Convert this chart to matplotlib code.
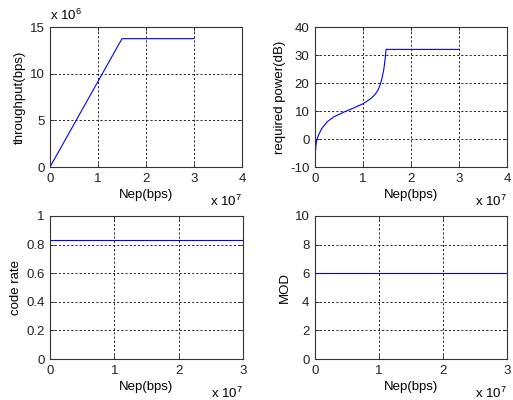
import matplotlib
matplotlib.use("Agg")
import matplotlib.pyplot as plt
from matplotlib.transforms import offset_copy

plt.rcParams["font.family"] = ["Liberation Sans", "DejaVu Sans"]
plt.rcParams["mathtext.fontset"] = "custom"
plt.rcParams["mathtext.rm"] = "Liberation Sans"

# throughput vs Nep
thr_x = [0, 1.5e7, 3e7]
thr_y = [0, 13.75e6, 13.75e6]

# required power vs Nep
pow_x = [0, 0.005e7, 0.015e7, 0.035e7, 0.07e7, 0.14e7, 0.25e7, 0.39e7, 0.6e7, 0.81e7,
         1.0e7, 1.16e7, 1.25e7, 1.31e7, 1.35e7, 1.39e7, 1.43e7, 1.45e7, 1.47e7, 1.48e7, 3e7]
pow_y = [-10, -6.5, -3.0, -0.5, 1.3, 3.7, 6.1, 7.9, 9.6, 11.1,
         12.6, 14.4, 15.9, 17.4, 19.0, 21.3, 24.5, 27.0, 30.0, 32.0, 32.0]

# code rate and modulation order
rate_x = [0, 3e7]
rate_y = [0.83, 0.83]
mod_x = [0, 3e7]
mod_y = [6, 6]

FS = 9.5


def style(ax, xlim, ylim, xticks, yticks, ylabel, xexp, yexp=None):
    ax.set_xlim(*xlim)
    ax.set_ylim(*ylim)
    ax.set_xticks(xticks)
    ax.set_yticks(yticks)
    ax.set_xticklabels([f"{t / 1e7:g}" for t in xticks], fontsize=FS)
    if yexp:
        ax.set_yticklabels([f"{t / 10 ** yexp:g}" for t in yticks], fontsize=FS)
    else:
        ax.set_yticklabels([f"{t:g}" for t in yticks], fontsize=FS)
    ax.tick_params(direction="in", top=True, right=True, length=3, width=0.6, pad=4,
                   colors="#222222")
    ax.grid(True, color="black", linestyle=(0, (2.5, 2.5)), linewidth=0.6)
    for s in ax.spines.values():
        s.set_linewidth(0.8)
        s.set_color("#333333")
    ax.set_xlabel("Nep(bps)", fontsize=FS, labelpad=3)
    ax.set_ylabel(ylabel, fontsize=FS, labelpad=3)
    # exponent label, baseline ~39 px below the axes bottom
    tr = offset_copy(ax.transAxes, fig=ax.figure, x=0, y=-39, units="dots")
    ax.text(1.0, 0.0, r"x 10$^{%d}$" % xexp, transform=tr,
            ha="right", va="baseline", fontsize=FS)
    if yexp:
        ax.text(0.0, 1.03, r"x 10$^{%d}$" % yexp, transform=ax.transAxes,
                ha="left", va="bottom", fontsize=FS)


fig = plt.figure(figsize=(5.13, 4.0), dpi=100)
W, H = 513, 400


def add_ax(l, t, r, b):
    return fig.add_axes([l / W, 1 - b / H, (r - l) / W, (b - t) / H])


ax1 = add_ax(50, 27, 242, 167)
ax1.plot(thr_x, thr_y, color="blue", lw=0.8)
style(ax1, (0, 4e7), (0, 15e6), [0, 1e7, 2e7, 3e7, 4e7], [0, 5e6, 10e6, 15e6],
      "throughput(bps)", 7, yexp=6)

ax2 = add_ax(315, 27, 507, 167)
ax2.plot(pow_x, pow_y, color="blue", lw=0.8)
style(ax2, (0, 4e7), (-10, 40), [0, 1e7, 2e7, 3e7, 4e7], [-10, 0, 10, 20, 30, 40],
      "required power(dB)", 7)

ax3 = add_ax(50, 216, 243, 359)
ax3.plot(rate_x, rate_y, color="blue", lw=0.8)
style(ax3, (0, 3e7), (0, 1), [0, 1e7, 2e7, 3e7], [0, 0.2, 0.4, 0.6, 0.8, 1],
      "code rate", 7)

ax4 = add_ax(315, 216, 507, 359)
ax4.plot(mod_x, mod_y, color="blue", lw=0.8)
style(ax4, (0, 3e7), (0, 10), [0, 1e7, 2e7, 3e7], [0, 2, 4, 6, 8, 10],
      "MOD", 7)

fig.savefig("out.png", dpi=100)
